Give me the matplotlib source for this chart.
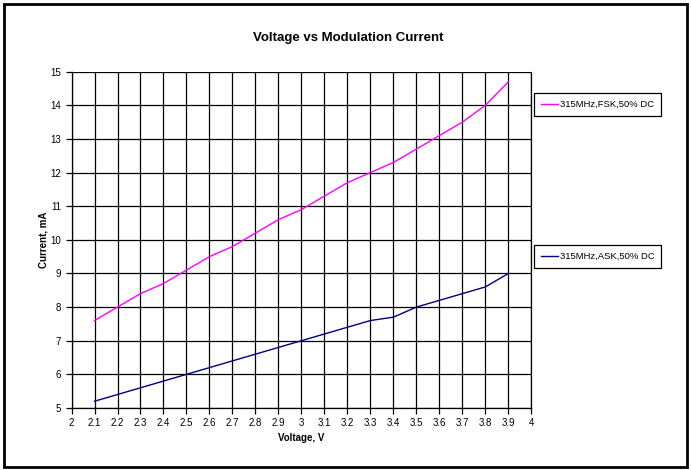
import matplotlib
matplotlib.use('Agg')
import matplotlib.pyplot as plt
from matplotlib.patches import Rectangle

voltage = [2.1, 2.2, 2.3, 2.4, 2.5, 2.6, 2.7, 2.8, 2.9, 3.0,
           3.1, 3.2, 3.3, 3.4, 3.5, 3.6, 3.7, 3.8, 3.9]
fsk_current = [7.6, 8.0, 8.4, 8.7, 9.1, 9.5, 9.8, 10.2, 10.6, 10.9,
               11.3, 11.7, 12.0, 12.3, 12.7, 13.1, 13.5, 14.0, 14.7]
ask_current = [5.2, 5.4, 5.6, 5.8, 6.0, 6.2, 6.4, 6.6, 6.8, 7.0,
               7.2, 7.4, 7.6, 7.7, 8.0, 8.2, 8.4, 8.6, 9.0]
fsk_label = '315MHz,FSK,50% DC'
ask_label = '315MHz,ASK,50% DC'
x_ticks = [2 + i * 0.1 for i in range(21)]
x_tick_labels = ['2', '2.1', '2.2', '2.3', '2.4', '2.5', '2.6', '2.7', '2.8', '2.9', '3',
                 '3.1', '3.2', '3.3', '3.4', '3.5', '3.6', '3.7', '3.8', '3.9', '4']
y_ticks = list(range(5, 16))

plt.rcParams['font.family'] = ['Liberation Sans', 'DejaVu Sans']

fig = plt.figure(figsize=(6.91, 4.70), dpi=100)
ax = fig.add_axes([0.1035, 0.132, 0.6655, 0.7155])

fsk_line, = ax.plot(voltage, fsk_current, color='#ff00ff', linewidth=1)
ask_line, = ax.plot(voltage, ask_current, color='#000080', linewidth=1)

ax.set_xlim(2, 4)
ax.set_ylim(5, 15)
ax.set_xticks(x_ticks)
ax.set_xticklabels(x_tick_labels)
ax.set_yticks(y_ticks)
ax.grid(True, color='black', linewidth=0.9)
ax.set_axisbelow(True)
ax.tick_params(labelsize=7, length=4, width=0.9, direction='out', color='black')
for spine in ax.spines.values():
    spine.set_linewidth(0.9)
ax.spines['top'].set_visible(False)

ax.set_xlabel('Voltage, V', fontsize=7, fontweight='bold', labelpad=3)
ax.set_ylabel('Current, mA', fontsize=7, fontweight='bold', labelpad=1)
fig.text(0.504, 0.919, 'Voltage vs Modulation Current', ha='center', va='center',
         fontsize=9.5, fontweight='bold')

leg_kw = dict(fontsize=6.8, frameon=True, fancybox=False, edgecolor='black',
              framealpha=1, handlelength=1.8, handletextpad=0.15, borderpad=0.75,
              borderaxespad=0, loc='center left', bbox_transform=fig.transFigure)
leg1 = ax.legend([fsk_line], [fsk_label], bbox_to_anchor=(0.773, 0.777), **leg_kw)
leg1.get_frame().set_linewidth(0.9)
ax.add_artist(leg1)
leg2 = ax.legend([ask_line], [ask_label], bbox_to_anchor=(0.773, 0.454), **leg_kw)
leg2.get_frame().set_linewidth(0.9)

fig.patches.append(Rectangle((0.006, 0.007), 0.988, 0.985, transform=fig.transFigure,
                             fill=False, edgecolor='black', linewidth=2))

fig.savefig('out.png', dpi=100)
